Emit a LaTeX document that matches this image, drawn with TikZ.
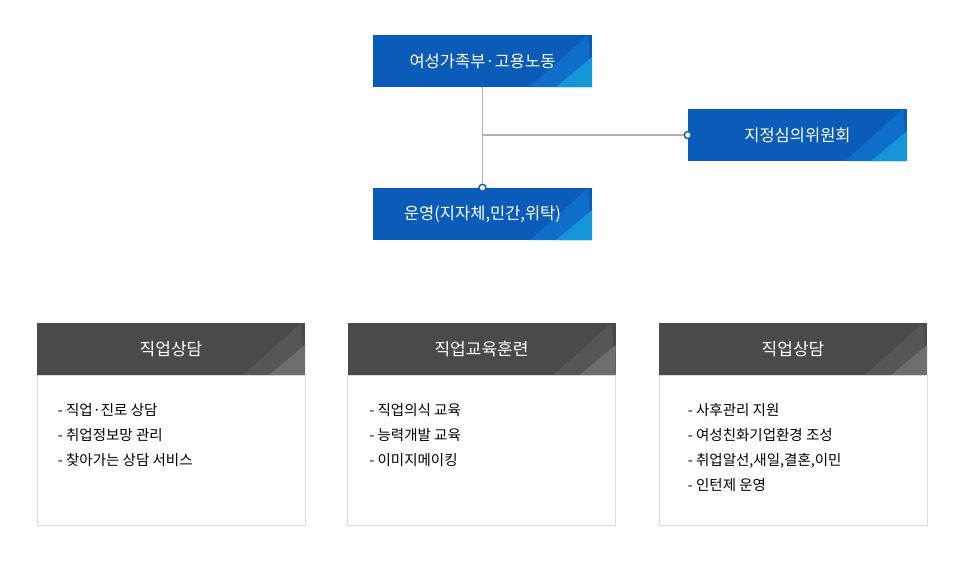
\documentclass[tikz,border=0pt]{standalone}
\usepackage{fontspec}
\setmainfont{Noto Sans CJK KR}
\usepackage{tikz}
\usetikzlibrary{calc,positioning}

\definecolor{orgblue}{HTML}{0A5CB8}
\definecolor{orgblueA}{HTML}{0F6ECA}
\definecolor{orgblueB}{HTML}{1496D8}
\definecolor{headgray}{HTML}{4A4A4A}
\definecolor{headgrayA}{HTML}{565656}
\definecolor{headgrayB}{HTML}{6E6E6E}
\definecolor{framegray}{HTML}{DADADA}

% light wedge in the lower right corner of a box (drawn under the text)
\newcommand{\cornerwedge}[2]{%
  \fill[#1] ($(path picture bounding box.south east)+(-62,0)$)
    -- ($(path picture bounding box.north east)+(-4,0)$)
    -- (path picture bounding box.south east) -- cycle;
  \fill[#2] ($(path picture bounding box.south east)+(-36,0)$)
    -- ($(path picture bounding box.east)+(0,-4)$)
    -- (path picture bounding box.south east) -- cycle;}

\tikzset{
  orgbox/.style={fill=orgblue, text=white, minimum width=219pt, minimum height=52pt,
    inner sep=0pt, font=\fontsize{16.5}{18}\selectfont,
    path picture={\cornerwedge{orgblueA}{orgblueB}}},
  headbox/.style={fill=headgray, text=white, minimum width=268pt, minimum height=52pt,
    inner sep=0pt, font=\fontsize{17}{18}\selectfont,
    path picture={\cornerwedge{headgrayA}{headgrayB}}},
  bodybox/.style={draw=framegray, line width=0.8pt, minimum width=268pt, minimum height=150pt,
    inner sep=0pt},
  itemtext/.style={align=left, inner sep=0pt, font=\fontsize{14.5}{25}\selectfont},
  joint/.style={circle, draw=orgblue, fill=white, line width=1.4pt, inner sep=0pt, minimum size=7pt},
  link/.style={draw=gray!60, line width=1.2pt},
}

\begin{document}
\begin{tikzpicture}[x=1pt,y=-1pt]
\useasboundingbox (0,0) rectangle (964,565);

% upper chart
\node[orgbox] (ministry) at (482.5,61) {여성가족부·고용노동};
\node[orgbox] (committee) at (797.5,135) {지정심의위원회};
\node[orgbox] (operator) at (482.5,214) {운영(지자체,민간,위탁)};

\draw[link] (ministry.south) -- (operator.north);
\coordinate (branch) at (ministry.south |- committee.west);
\draw[link] (branch) -- (committee.west);
\node[joint] at (operator.north) {};
\node[joint] at (committee.west) {};

% lower cards
\node[headbox] (counselhead) at (171,349) {직업상담};
\node[headbox] (traininghead) at (481.5,349) {직업교육훈련};
\node[headbox] (supporthead) at (793,349) {직업상담};

\node[bodybox, below=0pt of counselhead] (counselbody) {};
\node[bodybox, below=0pt of traininghead] (trainingbody) {};
\node[bodybox, below=0pt of supporthead] (supportbody) {};

\node[itemtext, anchor=north west] (counselitems) at ($(counselbody.north west)+(21,28)$)
  {- 직업·진로 상담\\- 취업정보망 관리\\- 찾아가는 상담 서비스};
\node[itemtext, anchor=north west] (trainingitems) at ($(trainingbody.north west)+(22,28)$)
  {- 직업의식 교육\\- 능력개발 교육\\- 이미지메이킹};
\node[itemtext, anchor=north west] (supportitems) at ($(supportbody.north west)+(29,28)$)
  {- 사후관리 지원\\- 여성친화기업환경 조성\\- 취업알선,새일,결혼,이민\\- 인턴제 운영};
\end{tikzpicture}
\end{document}
